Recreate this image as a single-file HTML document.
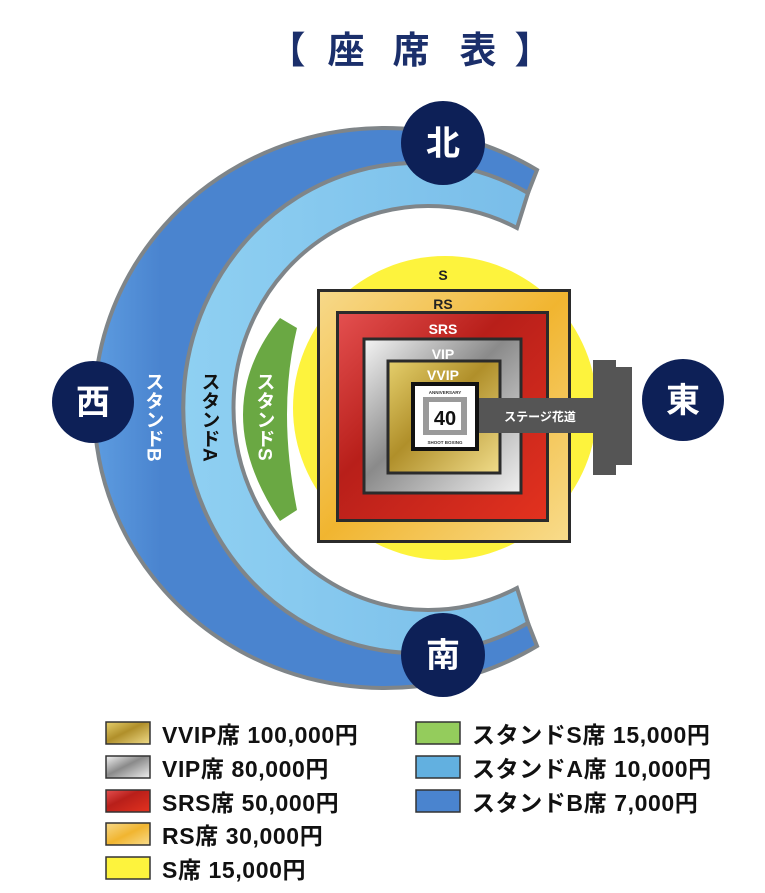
<!DOCTYPE html>
<html><head><meta charset="utf-8"><style>
html,body{margin:0;padding:0;background:#fff;}
svg{display:block;}
text{font-family:"Liberation Sans","Noto Sans CJK JP",sans-serif;font-weight:bold;}
</style></head><body>
<svg width="765" height="893" viewBox="0 0 765 893" xmlns="http://www.w3.org/2000/svg">
<defs>
<linearGradient id="gB" x1="0" y1="0" x2="1" y2="0"><stop offset="0" stop-color="#5d9ce0"/><stop offset="0.15" stop-color="#4a84cf"/><stop offset="1" stop-color="#4a84cf"/></linearGradient>
<linearGradient id="gA" x1="0" y1="0" x2="1" y2="0"><stop offset="0" stop-color="#8fd0f2"/><stop offset="1" stop-color="#79bde9"/></linearGradient>
<linearGradient id="gSRS" x1="0" y1="0" x2="1" y2="1"><stop offset="0" stop-color="#e45050"/><stop offset="0.4" stop-color="#b81f1a"/><stop offset="1" stop-color="#e3321f"/></linearGradient>
<linearGradient id="gVIP" x1="0" y1="0" x2="1" y2="1"><stop offset="0" stop-color="#f4f4f4"/><stop offset="0.45" stop-color="#8a8a8a"/><stop offset="1" stop-color="#f0f0f0"/></linearGradient>
<linearGradient id="gVVIP" x1="0" y1="0" x2="1" y2="1"><stop offset="0" stop-color="#e5cf6c"/><stop offset="0.45" stop-color="#b08f2a"/><stop offset="1" stop-color="#f0dc8a"/></linearGradient>
<linearGradient id="gRS" x1="0" y1="0" x2="1" y2="1"><stop offset="0" stop-color="#f7d98a"/><stop offset="0.5" stop-color="#f1b530"/><stop offset="1" stop-color="#f8dc8c"/></linearGradient>
</defs>

<g fill="#1b2f6b" font-size="37" text-anchor="middle">
<text x="287" y="63">【</text>
<text x="346" y="63">座</text>
<text x="411" y="63">席</text>
<text x="478" y="63">表</text>
<text x="533" y="63">】</text>
</g>

<path d="M537,170 A290,280 0 1 0 537,646 L528,623 A233,245 0 1 1 528,193 Z" fill="url(#gB)" stroke="#7f8589" stroke-width="4"/>
<path d="M528,193 A233,245 0 1 0 528,623 L517,588 A195,202 0 1 1 517,228 Z" fill="url(#gA)" stroke="#7f8589" stroke-width="4"/>
<path d="M280,318 Q206,410 280,521 L297,510 Q277,410 297,328 Z" fill="#6aa843"/>

<circle cx="445" cy="408" r="152" fill="#fdf33d"/>
<rect x="318.5" y="290.5" width="251" height="251" fill="url(#gRS)" stroke="#2b2b2b" stroke-width="3"/>
<rect x="337.5" y="312.5" width="210" height="208" fill="url(#gSRS)" stroke="#2b2b2b" stroke-width="3"/>
<rect x="364" y="339" width="157" height="154" fill="url(#gVIP)" stroke="#2b2b2b" stroke-width="3"/>
<rect x="388" y="361" width="112" height="112" fill="url(#gVVIP)" stroke="#2b2b2b" stroke-width="3"/>
<rect x="478" y="398" width="118" height="35" fill="#555"/>
<rect x="593" y="360" width="23" height="115" fill="#555"/>
<rect x="614" y="367" width="18" height="98" fill="#555"/>
<text x="540" y="421" font-size="12" fill="#fff" text-anchor="middle">ステージ花道</text>
<rect x="413" y="384" width="64" height="65" fill="#fff" stroke="#111" stroke-width="4"/>
<rect x="423" y="397" width="44" height="38" fill="#9a9a9a"/>
<rect x="429" y="402" width="32" height="28" fill="#fff"/>
<text x="445" y="425" font-size="20" fill="#111" text-anchor="middle">40</text>
<text x="445" y="394" font-size="4.5" fill="#333" text-anchor="middle">ANNIVERSARY</text>
<text x="445" y="444" font-size="4.5" fill="#333" text-anchor="middle">SHOOT BOXING</text>

<g font-size="14" text-anchor="middle">
<text x="443" y="280" fill="#222">S</text>
<text x="443" y="309" fill="#222">RS</text>
<text x="443" y="334" fill="#fff">SRS</text>
<text x="443" y="359" fill="#fff">VIP</text>
<text x="443" y="380" fill="#fff">VVIP</text>
</g>
<g font-size="19" writing-mode="tb" text-anchor="start">
<text x="153" y="372" fill="#fff">スタンドB</text>
<text x="209" y="372" fill="#111">スタンドA</text>
<text x="264" y="372" fill="#fff">スタンドS</text>
</g>

<g fill="#0d2057">
<circle cx="443" cy="143" r="42"/>
<circle cx="443" cy="655" r="42"/>
<circle cx="93" cy="402" r="41"/>
<circle cx="683" cy="400" r="41"/>
</g>
<g fill="#fff" font-size="34" text-anchor="middle">
<text x="443" y="155">北</text>
<text x="443" y="667">南</text>
<text x="93" y="414">西</text>
<text x="683" y="412">東</text>
</g>

<g stroke="#333" stroke-width="1.5">
<rect x="106" y="722" width="44" height="22" fill="url(#gVVIP)"/>
<rect x="106" y="756" width="44" height="22" fill="url(#gVIP)"/>
<rect x="106" y="790" width="44" height="22" fill="url(#gSRS)"/>
<rect x="106" y="823" width="44" height="22" fill="url(#gRS)"/>
<rect x="106" y="857" width="44" height="22" fill="#fdf33d"/>
<rect x="416" y="722" width="44" height="22" fill="#94cc5c"/>
<rect x="416" y="756" width="44" height="22" fill="#62b0e0"/>
<rect x="416" y="790" width="44" height="22" fill="#4a84cf"/>
</g>
<g font-size="23" fill="#111" letter-spacing="0.6">
<text x="162" y="743">VVIP席 100,000円</text>
<text x="162" y="777">VIP席 80,000円</text>
<text x="162" y="811">SRS席 50,000円</text>
<text x="162" y="844">RS席 30,000円</text>
<text x="162" y="878">S席 15,000円</text>
<text x="472" y="743">スタンドS席 15,000円</text>
<text x="472" y="777">スタンドA席 10,000円</text>
<text x="472" y="811">スタンドB席 7,000円</text>
</g>
</svg>
</body></html>
